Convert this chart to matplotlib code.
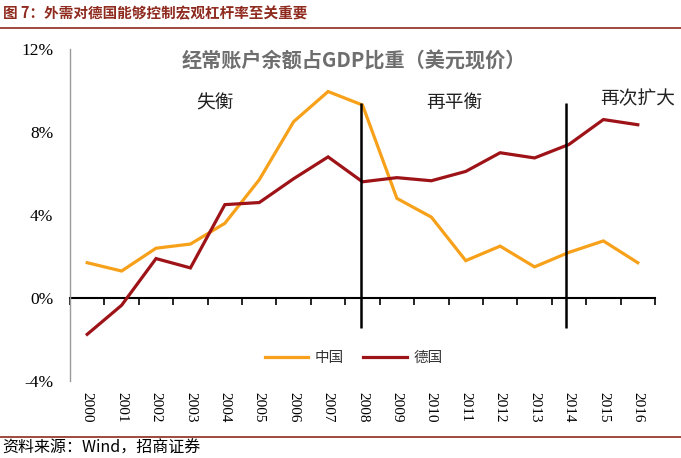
import matplotlib
matplotlib.use("Agg")
import matplotlib.pyplot as plt
import numpy as np

plt.rcParams['font.family'] = ['Noto Sans CJK SC', 'DejaVu Sans']

years = [str(y) for y in range(2000, 2017)]
china = [1.7, 1.3, 2.4, 2.6, 3.6, 5.7, 8.5, 9.95, 9.3, 4.8, 3.9, 1.8, 2.5, 1.5, 2.2, 2.75, 1.7]
germany = [-1.75, -0.35, 1.9, 1.45, 4.5, 4.6, 5.75, 6.8, 5.6, 5.8, 5.65, 6.1, 7.0, 6.75, 7.4, 8.6, 8.35]
yticks = [-4, 0, 4, 8, 12]
ytick_labels = ['-4%', '0%', '4%', '8%', '12%']
phase_labels = ['失衡', '再平衡', '再次扩大']
divider_pos = [7.95, 13.9]

orange = '#F7A11A'
darkred = '#9E1318'
title_red = '#8E2A1E'

fig = plt.figure(figsize=(6.81, 4.58), dpi=100)
ax = fig.add_axes([70/681, 1-381/458, 585/681, 332/458])

x = np.arange(len(years))
ax.plot(x, china, color=orange, lw=2.3, label='中国', solid_joinstyle='miter')
ax.plot(x, germany, color=darkred, lw=2.3, label='德国', solid_joinstyle='miter')

ax.set_xlim(-0.5, len(years) - 0.5)
ax.set_ylim(-4, 12)

# y axis
ax.set_yticks(yticks)
ax.set_yticklabels(ytick_labels, family='Liberation Serif', fontsize=12.5)
ax.tick_params(axis='y', length=0, pad=12)
for s in ['top', 'right', 'bottom']:
    ax.spines[s].set_visible(False)
ax.spines['left'].set_color('#9A9A9A')
ax.spines['left'].set_linewidth(1.0)

# x labels at the bottom
ax.set_xticks(x)
ax.set_xticklabels(years, rotation=-90, family='Liberation Serif', fontsize=11)
ax.tick_params(axis='x', length=0, pad=8)

# zero axis with boundary ticks
sec = ax.secondary_xaxis(0.25)
sec.set_xticks(np.arange(-0.5, len(years), 1.0))
sec.set_xticklabels([])
sec.tick_params(axis='x', length=5, width=1.2, color='black', direction='out')
sec.spines['bottom'].set_color('black')
sec.spines['bottom'].set_linewidth(1.5)

# phase dividers
ax.vlines(divider_pos, -1.45, 9.4, color='black', lw=1.8)

# phase labels
ax.text(3.7, 9.4, phase_labels[0], fontsize=13.5, color='#222222', ha='center', va='center')
ax.text(10.66, 9.4, phase_labels[1], fontsize=13.5, color='#222222', ha='center', va='center')
ax.text(16.0, 9.6, phase_labels[2], fontsize=13.5, color='#222222', ha='center', va='center')

# chart title
ax.text(0.486, 0.963, '经常账户余额占GDP比重（美元现价）', transform=ax.transAxes,
        fontsize=14.5, fontweight='bold', color='#6E6E6E', ha='center', va='center')

leg = ax.legend(loc='center', bbox_to_anchor=(0.485, 0.069), ncol=2, frameon=False,
                fontsize=10.5, handlelength=3.0, handletextpad=0.45, columnspacing=1.3)
for t in leg.get_texts():
    t.set_color('#333333')

# figure title and source
fig.text(0.004, 1-13/458, '图 7：外需对德国能够控制宏观杠杆率至关重要', fontsize=10.5,
         fontweight='bold', color=title_red, ha='left', va='center')
fig.add_artist(plt.Line2D([0, 1], [1-28/458, 1-28/458], color=title_red, lw=1.2))
fig.add_artist(plt.Line2D([0, 1], [1-437/458, 1-437/458], color=title_red, lw=1.2))
fig.text(0.004, 1-448/458, '资料来源：Wind，招商证券', fontsize=11.5, color='black',
         ha='left', va='center')

fig.savefig('out.png', dpi=100)
